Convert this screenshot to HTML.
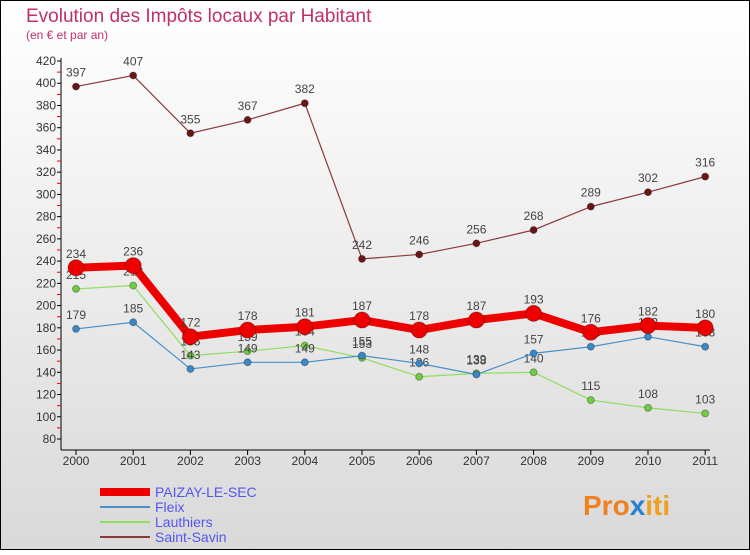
<!DOCTYPE html>
<html><head><meta charset="utf-8"><style>
body{margin:0}
svg text{font-family:"Liberation Sans",sans-serif}
</style></head><body>
<svg id="c" width="750" height="550" viewBox="0 0 750 550" xmlns="http://www.w3.org/2000/svg">
<defs><linearGradient id="bg" x1="0" y1="0" x2="0" y2="1"><stop offset="0" stop-color="#ffffff"/><stop offset="1" stop-color="#d9d9d9"/></linearGradient></defs>
<rect x="0.5" y="0.5" width="749" height="549" fill="url(#bg)" stroke="#000"/>
<text x="26" y="22" font-size="19" fill="#c0306a">Evolution des Impôts locaux par Habitant</text>
<text x="26" y="39" font-size="12" fill="#c0306a">(en € et par an)</text>
<g id="axes"></g><g id="series"></g><g id="legend"></g>
<g><text x="583" y="515" font-size="28" font-weight="bold" fill="#f08020">Pro<tspan fill="#2a7fd0">x</tspan><tspan fill="#f0a020">iti</tspan></text></g>
</svg>
<script>
const years=[2000,2001,2002,2003,2004,2005,2006,2007,2008,2009,2010,2011];
const yTicks=[80,100,120,140,160,180,200,220,240,260,280,300,320,340,360,380,400,420];
const paizay=[234,236,172,178,181,187,178,187,193,176,182,180];
const fleix=[179,185,143,149,149,155,148,138,157,163,172,163];
const lauthiers=[215,218,155,159,164,153,136,139,140,115,108,103];
const saintSavin=[397,407,355,367,382,242,246,256,268,289,302,316];
const NS="http://www.w3.org/2000/svg";
const X=i=>76+i*57.2, Y=v=>439-(v-80)*(378/340);
function el(t,a,p){const e=document.createElementNS(NS,t);for(const k in a)e.setAttribute(k,a[k]);p.appendChild(e);return e;}
const ax=document.getElementById('axes');
let l=el('line',{x1:61,y1:58,x2:61,y2:450,stroke:'#000'},ax);


l=el('line',{x1:61,y1:450,x2:710,y2:450,stroke:'#000'},ax);


yTicks.forEach((v,i)=>{
 el('line',{x1:57,y1:Y(v),x2:61,y2:Y(v),stroke:'#000'},ax);
 if(i<yTicks.length-1)el('line',{x1:57,y1:Y(v+10),x2:61,y2:Y(v+10),stroke:'#e00'},ax);
 const t=el('text',{x:56,y:Y(v)+4,'font-size':12,'text-anchor':'end',fill:'#333'},ax);t.textContent=v;
 
 
});
years.forEach((y,i)=>{
 el('line',{x1:X(i),y1:450,x2:X(i),y2:455,stroke:'#000'},ax);
 const t=el('text',{x:X(i),y:465,'font-size':12,'text-anchor':'middle',fill:'#333'},ax);t.textContent=y;
 
 
});
const sg=document.getElementById('series');
function series(vals,color,dot,w,r,name){
 const g=el('g',{},sg);
 
 
 el('polyline',{points:vals.map((v,i)=>X(i)+','+Y(v)).join(' '),fill:'none',stroke:color,'stroke-width':w,'stroke-linejoin':'round'},g);
 vals.forEach((v,i)=>{
  const c=el('circle',{cx:X(i),cy:Y(v),r:r,fill:dot,stroke:'rgba(0,0,0,0.3)'},g);
  
  
  const t=el('text',{x:X(i),y:Y(v)-10,'font-size':12,'text-anchor':'middle',fill:'#444'},g);t.textContent=v;
 });
}
series(saintSavin,'#8b3a3a','#6b1515',1.2,3.5,'saint-savin');
series(lauthiers,'#90dd60','#70cc40',1.2,3.5,'lauthiers');
series(fleix,'#4a90c8','#3a88c8',1.2,3.5,'fleix');
series(paizay,'#ee0000','#ee0000',8,8,'paizay-le-sec');
const lg=document.getElementById('legend');
[['PAIZAY-LE-SEC','#ee0000',8],['Fleix','#4a90c8',2],['Lauthiers','#90dd60',2],['Saint-Savin','#8b3a3a',2]].forEach((d,i)=>{
 const y=492+i*15;
 const g=el('g',{},lg);
 
 
 el('line',{x1:100,y1:y,x2:150,y2:y,stroke:d[1],'stroke-width':d[2]},g);
 const t=el('text',{x:155,y:y+5,'font-size':14,fill:'#5555ee'},g);t.textContent=d[0];
});
</script>
</body></html>
